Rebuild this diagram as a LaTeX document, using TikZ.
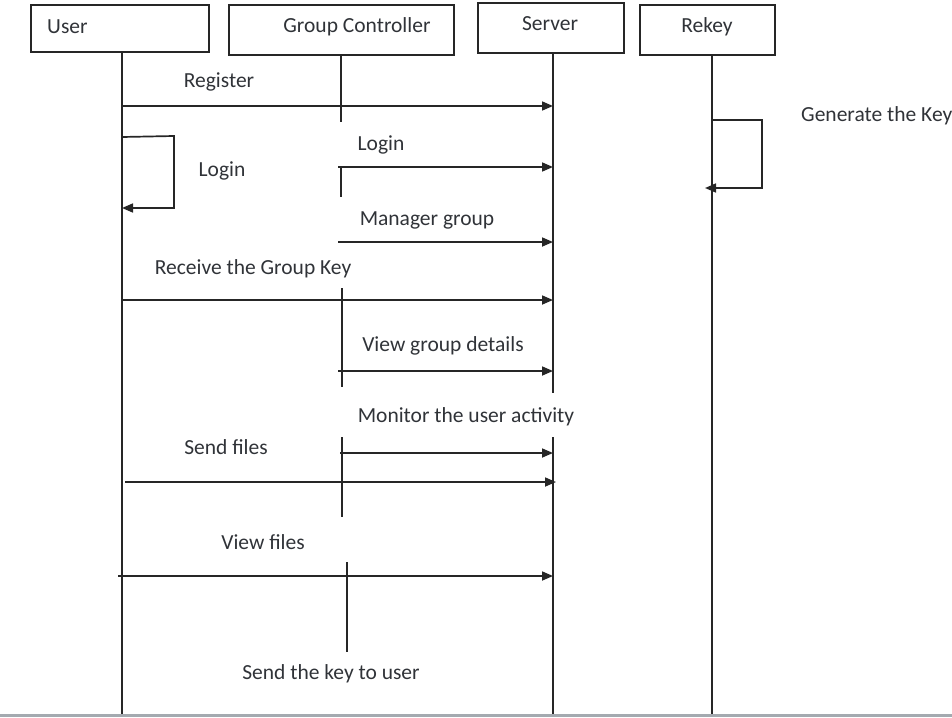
\documentclass[tikz,border=0pt]{standalone}
\usepackage{fontspec}
\setmainfont{Carlito}
\usetikzlibrary{arrows.meta}
\definecolor{ink}{HTML}{262626}
\definecolor{txt}{HTML}{303338}
\definecolor{rule}{HTML}{A4AAB0}
\begin{document}
\begin{tikzpicture}[x=1pt,y=-1pt,
  every node/.style={font=\fontsize{21.5}{24}\selectfont, text=txt, inner sep=0pt},
  actor/.style={draw=ink, line width=1.8pt, fill=white},
  life/.style={draw=ink, line width=1.7pt},
  msg/.style={draw=ink, line width=1.7pt, -{Triangle[length=11pt,width=9pt]}},
  lbl/.style={anchor=center}]
\useasboundingbox (0,0) rectangle (952,717);

% participant boxes
\draw[actor] (31,5) rectangle (209,52);
\draw[actor] (229,5) rectangle (454,55);
\draw[actor] (478,3) rectangle (624,53);
\draw[actor] (640,5) rectangle (775,55);
\node[anchor=west] (user) at (47,27) {User};
\node (gc) at (357,27) {Group Controller};
\node (server) at (550,24) {Server};
\node (rekey) at (707,27) {Rekey};

% lifelines
\coordinate (uTop) at (122,52);   \coordinate (uBot) at (122,717);
\coordinate (sTop) at (553,53);   \coordinate (sMid) at (553,393);
\coordinate (sRes) at (553,437);  \coordinate (sBot) at (553,717);
\coordinate (rTop) at (712,55);   \coordinate (rBot) at (712,717);
\draw[life] (uTop) -- (uBot);
\draw[life] (sTop) -- (sMid);
\draw[life] (sRes) -- (sBot);
\draw[life] (rTop) -- (rBot);
% group controller activity segments
\draw[life] (341,55) -- (341,122);
\draw[life] (341,167) -- (341,197);
\draw[life] (342,288) -- (342,387);
\draw[life] (342,437) -- (342,517);
\draw[life] (347,562) -- (347,652);

% message end points
\coordinate (uReg) at (122,106);  \coordinate (sReg) at (553,106);
\coordinate (gLog) at (338,167);  \coordinate (sLog) at (553,167);
\coordinate (gMan) at (338,242);  \coordinate (sMan) at (553,242);
\coordinate (uKey) at (122,300);  \coordinate (sKey) at (553,300);
\coordinate (gVgd) at (338,371);  \coordinate (sVgd) at (553,371);
\coordinate (gMon) at (340,453);  \coordinate (sMon) at (553,453);
\coordinate (uSnd) at (125,482);  \coordinate (sSnd) at (556,482);
\coordinate (uVf)  at (118,576);  \coordinate (sVf)  at (553,576);

\draw[msg] (uReg) -- (sReg);
\draw[msg] (gLog) -- (sLog);
\draw[msg] (gMan) -- (sMan);
\draw[msg] (uKey) -- (sKey);
\draw[msg] (gVgd) -- (sVgd);
\draw[msg] (gMon) -- (sMon);
\draw[msg] (uSnd) -- (sSnd);
\draw[msg] (uVf) -- (sVf);

% self messages
\coordinate (uLoopA) at (122,137); \coordinate (uLoopB) at (122,208);
\draw[msg] (uLoopA) -- (174,136) -- (174,208) -- (uLoopB);
\coordinate (rLoopA) at (712,120); \coordinate (rLoopB) at (705,188);
\draw[msg] (rLoopA) -- (762,120) -- (762,188) -- (rLoopB);

% message labels
\node[lbl] (tReg) at (219,82) {Register};
\node[lbl] (tLogU) at (222,171) {Login};
\node[lbl] (tLogG) at (381,145) {Login};
\node[lbl] (tMan) at (427,220) {Manager group};
\node[lbl] (tKey) at (253,269) {Receive the Group Key};
\node[lbl] (tVgd) at (443,346) {View group details};
\node[lbl] (tMon) at (466,417) {Monitor the user activity};
\node[lbl] (tSnd) at (226,447) {Send files};
\node[lbl] (tVf) at (263,542) {View files};
\node[lbl] (tSk) at (331,674) {Send the key to user};
\node[anchor=west] (tGen) at (801,116) {Generate the Key};

% bottom edge
\draw[rule, line width=3pt] (0,715.5) -- (952,715.5);
\end{tikzpicture}
\end{document}
